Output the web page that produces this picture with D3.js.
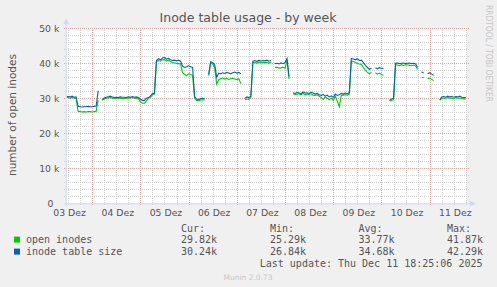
<!DOCTYPE html>
<html>
<head>
<meta charset="utf-8">
<script src="https://cdn.jsdelivr.net/npm/d3@7"></script>
<style>
  body { margin: 0; background: #f0f0f0; }
  svg { display: block; }
  text { font-family: "DejaVu Sans", sans-serif; }
  .mono text { font-family: "DejaVu Sans Mono", monospace; }
</style>
</head>
<body>
<div id="chart"></div>
<script>
// Chart size
const width = 497;
const height = 287;

// Hourly samples, first one at Dec 3 11:00 (UTC), values in thousands, null = no data
const seriesStart = Date.UTC(2025, 11, 3, 11, 0);
const openInodesK = [
  30.3, 30.2, 30.0, 30.3, 30.0, 30.0,
  26.3, 26.2, 26.1, 26.2, 26.1, 26.2, 26.2, 26.1, 26.2, 26.3,
  29.5, null,
  29.4, 29.8, 30.0, 30.1, 30.2, 30.0, 30.0, 30.1, 30.0, 30.1, 29.9, 30.0, 30.1, 30.0, 30.1, 30.2, 30.0, 30.1, 29.9,
  29.0, 28.6, 28.6, 29.2, 30.0, 30.3, 31.0, 31.2,
  40.4, 40.8, 40.6, 41.0, 41.1, 40.6, 40.9, 40.5, 40.2, 40.1, 40.0, 39.9, 39.8,
  37.3, 36.8, 36.5, 37.0, 36.9, 36.5,
  30.0, 29.4, 29.3, 29.5, 29.6, 29.5,
  null,
  36.5, 40.2, 39.8, 38.8, 34.0,
  35.3, 35.6, 35.8, 35.5, 35.7, 35.4, 35.6, 35.7, 35.5, 35.3, 35.6, 34.2,
  null,
  29.6, 29.8, 29.7, 30.2,
  40.2, 40.3, 40.0, 40.4, 40.1, 40.3, 40.2, 40.3, 40.0, 40.4,
  null,
  38.8, 38.9, 38.6, 38.7, 38.9, 38.6, 40.8, 35.5,
  null,
  31.3, 31.1, 31.2, 31.3, 31.0, 31.4, 31.0, 31.2, 31.1, 31.3, 30.9, 30.8, 31.0, 30.6, 30.2,
  29.7, 30.4, 30.0, 29.6, 30.1, 29.4, 30.6, 29.2, 27.6, 30.8, 30.9, 31.0, 30.9, 31.2,
  40.6, 40.5, 40.2, 40.0, 39.8, 39.7, 38.8, 38.0, 37.4, 37.0, 37.4,
  null,
  37.3, 36.9, 37.2, 36.8, 36.6,
  null, null,
  29.2, 29.4, 29.6, 39.6, 39.5, 39.3, 39.6, 39.4, 39.6, 39.5, 39.4, 39.3, 39.5, 39.2, 38.2,
  null,
  36.0, 35.9,
  null,
  35.6, 35.8, 35.4, 35.1,
  null, null,
  29.4, 30.0, 30.1, 30.0, 30.2, 30.0, 30.1, 29.9, 30.2, 30.0, 30.1, 29.9, 29.8, 29.82
];
const tableSizeK = [
  30.6, 30.5, 30.4, 30.6, 30.3, 30.4,
  27.7, 27.6, 27.5, 27.6, 27.6, 27.7, 27.6, 27.6, 27.7, 27.8,
  32.2, null,
  29.6, 30.1, 30.3, 30.4, 30.6, 30.4, 30.2, 30.3, 30.2, 30.4, 30.3, 30.3, 30.2, 30.4, 30.3, 30.5, 30.3, 30.4, 30.2,
  29.8, 29.4, 29.4, 30.0, 30.2, 30.6, 31.3, 31.5,
  40.8, 41.3, 41.0, 41.5, 41.7, 41.2, 41.4, 41.0, 40.8, 40.9, 40.7, 40.9, 40.6,
  39.2, 38.8, 39.0, 39.3, 39.0, 38.8,
  30.5, 29.8, 29.6, 29.9, 30.0, 29.8,
  null,
  36.8, 40.5, 40.2, 39.6, 36.0,
  37.2, 37.0, 37.3, 37.1, 37.4, 37.2, 37.0, 37.3, 37.5, 37.2, 37.4, 37.0,
  null,
  30.0, 30.4, 30.2, 30.6,
  40.6, 40.8, 40.5, 40.9, 40.6, 40.8, 40.7, 40.9, 40.6, 40.8,
  null,
  39.9, 40.0, 39.8, 40.1, 39.9, 40.2, 41.4, 36.2,
  null,
  31.6, 31.4, 31.7, 31.5, 31.3, 31.8, 31.5, 31.6, 31.4, 31.7, 31.5, 31.2, 31.4, 31.0, 30.8,
  31.1, 30.6, 30.9, 30.4, 30.7, 30.3, 31.2, 30.8, 31.0, 31.4, 31.2, 31.5, 31.3, 31.6,
  41.4, 41.2, 41.0, 41.3, 40.8, 40.9, 40.2, 39.4, 38.8, 38.3, 38.6,
  null,
  38.7, 38.4, 38.8, 38.5, 38.6,
  null, null,
  29.4, 29.8, 30.0, 40.0, 40.1, 39.9, 40.0, 40.1, 39.9, 40.0, 40.1, 39.9, 40.0, 39.8, 38.8,
  null,
  37.6, 37.2,
  null,
  37.0, 37.3, 36.9, 36.6,
  null, null,
  29.6, 30.4, 30.5, 30.3, 30.6, 30.4, 30.5, 30.3, 30.5, 30.4, 30.6, 30.3, 30.2, 30.24
];

// Axis labels
const dayLabels = ["03 Dez", "04 Dez", "05 Dez", "06 Dez", "07 Dez", "08 Dez", "09 Dez", "10 Dez", "11 Dez"];
const yTicks = [0, 10, 20, 30, 40, 50];
const yTickLabels = ["0", "10 k", "20 k", "30 k", "40 k", "50 k"];

// Legend
const seriesNames = ["open inodes", "inode table size"];
const seriesColors = ["#00cc00", "#0066b3"];
const statHeads = ["Cur:", "Min:", "Avg:", "Max:"];
const statValues = [
  ["29.82k", "25.29k", "33.77k", "41.87k"],
  ["30.24k", "26.84k", "34.68k", "42.29k"]
];
const lastUpdate = "Last update: Thu Dec 11 18:25:06 2025";

// Plot frame
const plotLeft = 66.7, plotRight = 466.7, plotTop = 28.3, plotBottom = 203.3;

const svg = d3.select("#chart")
    .append("svg")
    .attr("width", width)
    .attr("height", height);

svg.append("rect")
    .attr("width", width)
    .attr("height", height)
    .attr("fill", "#f0f0f0");

const x = d3.scaleUtc()
    .domain([Date.UTC(2025, 11, 3, 11, 20), Date.UTC(2025, 11, 11, 18, 25)])
    .range([plotLeft, plotRight]);

const y = d3.scaleLinear()
    .domain([0, 50])
    .range([plotBottom, plotTop]);

svg.append("rect")
    .attr("x", plotLeft)
    .attr("y", plotTop)
    .attr("width", plotRight - plotLeft)
    .attr("height", plotBottom - plotTop)
    .attr("fill", "#ffffff");

// Grid: minor every 6 hours / 2k, major every day / 10k
const minorTimes = d3.utcHour.every(6).range(x.domain()[0], x.domain()[1])
    .filter(d => d.getUTCHours() !== 0);
const majorTimes = d3.utcDay.range(x.domain()[0], x.domain()[1]);
const minorY = d3.range(2, 50, 2).filter(v => v % 10 !== 0);

const grid = svg.append("g").attr("shape-rendering", "crispEdges");

grid.selectAll("line.vminor")
    .data(minorTimes)
    .join("line")
    .attr("x1", d => Math.round(x(d)) + 0.5)
    .attr("x2", d => Math.round(x(d)) + 0.5)
    .attr("y1", plotTop)
    .attr("y2", plotBottom + 2)
    .attr("stroke", "#d2d2d2")
    .attr("stroke-dasharray", "1,1");

grid.selectAll("line.hminor")
    .data(minorY)
    .join("line")
    .attr("x1", plotLeft - 3)
    .attr("x2", plotRight + 2)
    .attr("y1", d => Math.round(y(d)) + 0.5)
    .attr("y2", d => Math.round(y(d)) + 0.5)
    .attr("stroke", "#d2d2d2")
    .attr("stroke-dasharray", "1,1");

grid.selectAll("line.vmajor")
    .data(majorTimes)
    .join("line")
    .attr("x1", d => Math.round(x(d)) + 0.5)
    .attr("x2", d => Math.round(x(d)) + 0.5)
    .attr("y1", plotTop)
    .attr("y2", plotBottom + 3)
    .attr("stroke", "#eba0a0")
    .attr("stroke-dasharray", "1,1");

grid.selectAll("line.hmajor")
    .data(yTicks.slice(1))
    .join("line")
    .attr("x1", plotLeft - 3)
    .attr("x2", plotRight + 2)
    .attr("y1", d => Math.round(y(d)) + 0.5)
    .attr("y2", d => Math.round(y(d)) + 0.5)
    .attr("stroke", "#eba0a0")
    .attr("stroke-dasharray", "1,1");

// Data lines
svg.append("clipPath")
    .attr("id", "plot-clip")
    .append("rect")
    .attr("x", plotLeft)
    .attr("y", plotTop)
    .attr("width", plotRight - plotLeft)
    .attr("height", plotBottom - plotTop);

const line = d3.line()
    .defined(d => d != null)
    .x((d, i) => x(new Date(seriesStart + i * 3600e3)))
    .y(d => y(d));

const lines = svg.append("g").attr("clip-path", "url(#plot-clip)");
[openInodesK, tableSizeK].forEach((series, k) => {
    lines.append("path")
        .datum(series)
        .attr("d", line)
        .attr("fill", "none")
        .attr("stroke", seriesColors[k])
        .attr("stroke-width", 1.1);
});

// Axes with arrows
const axisColor = "#cfd6f8";
svg.append("line")
    .attr("x1", plotLeft - 0.5).attr("x2", plotLeft - 0.5)
    .attr("y1", plotBottom + 3).attr("y2", plotTop - 5)
    .attr("stroke", axisColor);
svg.append("line")
    .attr("x1", plotLeft - 3).attr("x2", plotRight + 4)
    .attr("y1", plotBottom + 0.5).attr("y2", plotBottom + 0.5)
    .attr("stroke", axisColor);
svg.append("path")
    .attr("d", `M${plotLeft - 3.5},${plotTop - 4} L${plotLeft + 2.5},${plotTop - 4} L${plotLeft - 0.5},${plotTop - 10} Z`)
    .attr("fill", axisColor);
svg.append("path")
    .attr("d", `M${plotRight + 3},${plotBottom - 2.5} L${plotRight + 3},${plotBottom + 3.5} L${plotRight + 9},${plotBottom + 0.5} Z`)
    .attr("fill", axisColor);

// Tick labels (the zero label keeps rrdtool's trailing unit gap)
svg.selectAll("text.ylab")
    .data(yTicks)
    .join("text")
    .attr("x", d => d === 0 ? plotLeft - 13.2 : plotLeft - 7.4)
    .attr("y", d => y(d) + 3.3)
    .attr("text-anchor", "end")
    .attr("font-size", 9.3)
    .attr("fill", "#555")
    .text((d, i) => yTickLabels[i]);

svg.selectAll("text.xlab")
    .data(dayLabels)
    .join("text")
    .attr("x", (d, i) => x(new Date(Date.UTC(2025, 11, 3 + i, 12))) + 1.5)
    .attr("y", 215.6)
    .attr("text-anchor", "middle")
    .attr("font-size", 9.3)
    .attr("fill", "#555")
    .text(d => d);

// Title and axis captions
svg.append("text")
    .attr("x", 248)
    .attr("y", 22)
    .attr("text-anchor", "middle")
    .attr("font-size", 12.5)
    .attr("fill", "#555")
    .text("Inode table usage - by week");

svg.append("text")
    .attr("transform", "translate(15.5,115) rotate(-90)")
    .attr("text-anchor", "middle")
    .attr("font-size", 10.5)
    .attr("fill", "#555")
    .text("number of open inodes");

svg.append("text")
    .attr("transform", "translate(485.5,5) rotate(90)")
    .attr("text-anchor", "start")
    .attr("font-size", 8)
    .attr("textLength", 97)
    .attr("lengthAdjust", "spacingAndGlyphs")
    .attr("fill", "#c8c8c8")
    .text("RRDTOOL / TOBI OETIKER");

// Legend
const legend = svg.append("g").attr("class", "mono");
const statX = [181, 270, 358.5, 447];

legend.selectAll("text.head")
    .data(statHeads)
    .join("text")
    .attr("x", (d, i) => statX[i])
    .attr("y", 231.5)
    .attr("font-size", 10)
    .attr("fill", "#555")
    .text(d => d);

seriesNames.forEach((name, k) => {
    const rowY = 243.3 + k * 12;
    legend.append("rect")
        .attr("x", 14)
        .attr("y", rowY - 6.7)
        .attr("width", 6)
        .attr("height", 6)
        .attr("fill", seriesColors[k]);
    legend.append("text")
        .attr("x", 26)
        .attr("y", rowY)
        .attr("font-size", 10)
        .attr("fill", "#555")
        .text(name);
    legend.selectAll(null)
        .data(statValues[k])
        .join("text")
        .attr("x", (d, i) => statX[i])
        .attr("y", rowY)
        .attr("font-size", 10)
        .attr("fill", "#555")
        .text(d => d);
});

legend.append("text")
    .attr("x", 482.5)
    .attr("y", 267.3)
    .attr("text-anchor", "end")
    .attr("font-size", 10)
    .attr("fill", "#555")
    .text(lastUpdate);

svg.append("text")
    .attr("x", 248)
    .attr("y", 279.5)
    .attr("text-anchor", "middle")
    .attr("font-size", 7.5)
    .attr("fill", "#c8c8c8")
    .text("Munin 2.0.73");
</script>
</body>
</html>
